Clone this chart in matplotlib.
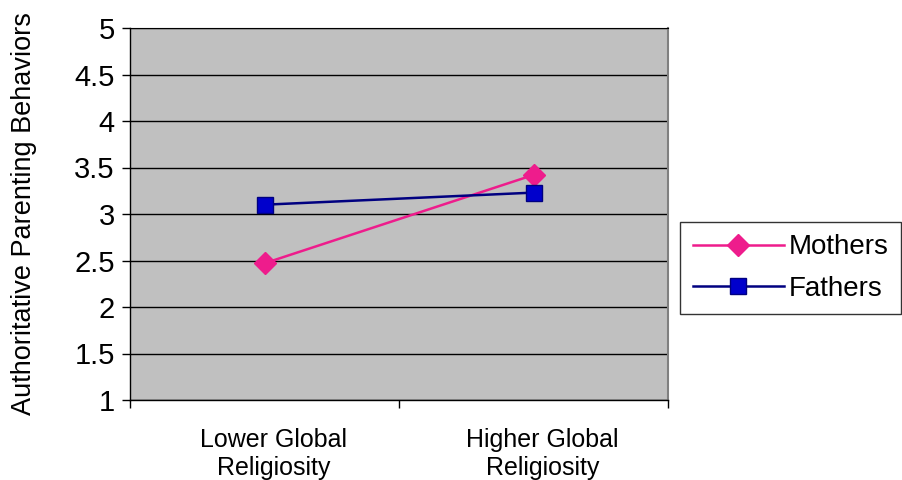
import matplotlib
matplotlib.use("Agg")
import matplotlib.pyplot as plt
from matplotlib.ticker import FixedLocator, NullFormatter, FixedFormatter
from matplotlib.transforms import ScaledTranslation

plt.rcParams['font.family'] = ['Liberation Sans', 'DejaVu Sans']

categories = ["Lower Global\nReligiosity", "Higher Global\nReligiosity"]
mothers = [2.47, 3.42]
fathers = [3.10, 3.23]
y_ticks = [1, 1.5, 2, 2.5, 3, 3.5, 4, 4.5, 5]
y_tick_labels = ["1", "1.5", "2", "2.5", "3", "3.5", "4", "4.5", "5"]

fig = plt.figure(figsize=(9.02, 4.8), dpi=100)
ax = fig.add_axes([130/902, 1-400/480, (668-130)/902, (400-28)/480])
ax.set_facecolor('#C0C0C0')

xpos = [i + 0.5 for i in range(len(categories))]
ax.plot(xpos, mothers, color='#EE1C8C', lw=1.8, marker='D', ms=11,
        mfc='#EE1C8C', mec='#EE1C8C', label='Mothers', zorder=3)
ax.plot(xpos, fathers, color='#000080', lw=1.8, marker='s', ms=12,
        mfc='#0000CC', mec='#000080', label='Fathers', zorder=3)

ax.set_xlim(0, len(categories))
ax.set_ylim(1, 5)
ax.yaxis.set_major_locator(FixedLocator(y_ticks))
ax.yaxis.set_major_formatter(FixedFormatter(y_tick_labels))
ax.yaxis.grid(True, color='black', lw=1)
ax.set_axisbelow(True)

ax.xaxis.set_major_locator(FixedLocator([0, 1, 2]))
ax.xaxis.set_major_formatter(NullFormatter())
ax.xaxis.set_minor_locator(FixedLocator(xpos))
ax.xaxis.set_minor_formatter(FixedFormatter(categories))
ax.tick_params(axis='x', which='major', direction='out', length=6, width=1, color='black')
ax.tick_params(axis='x', which='minor', length=0, pad=20, labelsize=18)
ax.tick_params(axis='y', direction='out', length=6, width=1, labelsize=21, pad=5)

shift = ScaledTranslation(9/100, 0, fig.dpi_scale_trans)
for lab in ax.xaxis.get_minorticklabels():
    lab.set_transform(lab.get_transform() + shift)

for s in ['left', 'bottom']:
    ax.spines[s].set_color('black')
    ax.spines[s].set_linewidth(1)
ax.spines['top'].set_color('black')
ax.spines['right'].set_color('#808080')
ax.spines['right'].set_linewidth(1.5)

ax.set_ylabel("Authoritative Parenting Behaviors", fontsize=19.5)
ax.yaxis.set_label_coords(-93/538, 0.5)

leg = fig.legend(loc='upper left', bbox_to_anchor=(680/902, 1-222/480),
                 fontsize=20, frameon=True, fancybox=False, edgecolor='black',
                 handlelength=3.3, borderpad=0.45, labelspacing=0.55,
                 handletextpad=0.15, borderaxespad=0)
leg.get_frame().set_linewidth(1)

fig.savefig("out.png", dpi=100)
